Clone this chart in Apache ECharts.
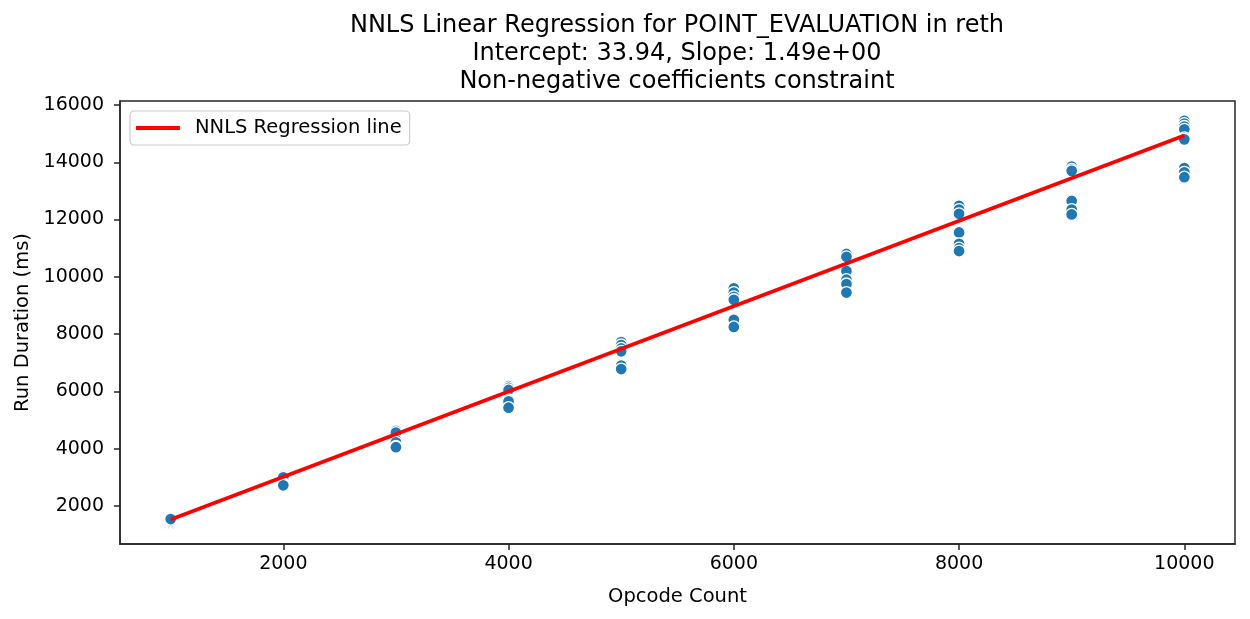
<!DOCTYPE html>
<html>
<head>
<meta charset="utf-8">
<script src="https://cdn.jsdelivr.net/npm/echarts@6/dist/echarts.min.js"></script>
<style>html,body{margin:0;padding:0;background:#fff}#c{width:1250px;height:619px}</style>
</head>
<body>
<div id="c"></div>
<script>
const opcodeCounts = [1000, 2000, 3000, 4000, 5000, 6000, 7000, 8000, 9000, 10000];
const durations1000 = [1360, 1380, 1420, 1460, 1500, 1540];
const durations2000 = [3080, 3040, 3000, 2780, 2740, 2720];
const durations3000 = [4620, 4560, 4300, 4220, 4080, 4050];
const durations4000 = [6180, 6120, 6050, 5700, 5650, 5430];
const durations5000 = [7720, 7620, 7500, 7400, 6900, 6780];
const durations6000 = [9600, 9450, 9300, 9200, 8500, 8250];
const durations7000 = [10800, 10700, 10200, 9900, 9750, 9450];
const durations8000 = [12480, 12350, 12200, 11550, 11150, 11000, 10900];
const durations9000 = [13850, 13750, 13700, 12650, 12350, 12180];
const durations10000 = [15450, 15350, 15250, 15150, 14850, 14800, 13800, 13650, 13480];
const lineX = [1000, 10000];
const lineY = [1524, 14934];
const xTicks = [2000, 4000, 6000, 8000, 10000];
const yTicks = [2000, 4000, 6000, 8000, 10000, 12000, 14000, 16000];

const groups = [durations1000, durations2000, durations3000, durations4000, durations5000,
  durations6000, durations7000, durations8000, durations9000, durations10000];
const scatterData = [];
groups.forEach((g, i) => g.forEach(v => scatterData.push([opcodeCounts[i], v])));
const lineData = lineX.map((x, i) => [x, lineY[i]]);

const font = 'DejaVu Sans';
const ink = '#262626';
const chart = echarts.init(document.getElementById('c'), null, {renderer: 'canvas'});
chart.setOption({
  animation: false,
  backgroundColor: '#fff',
  textStyle: {fontFamily: font},
  title: {
    text: 'NNLS Linear Regression for POINT_EVALUATION in reth\nIntercept: 33.94, Slope: 1.49e+00\nNon-negative coefficients constraint',
    left: 677, top: 12, textAlign: 'center', padding: 0,
    textStyle: {fontFamily: font, fontSize: 24, fontWeight: 'normal', color: '#000', lineHeight: 28}
  },
  legend: {
    left: 130, top: 111,
    padding: [7, 8, 7, 6],
    backgroundColor: '#fff',
    borderColor: '#cccccc', borderWidth: 1.2, borderRadius: 4,
    itemWidth: 44, itemHeight: 4, itemGap: 10,
    textStyle: {fontFamily: font, fontSize: 19.5, color: '#000', padding: [0, 0, 0, 10]},
    data: [{name: 'NNLS Regression line', icon: 'rect', itemStyle: {color: '#ff0000'}}]
  },
  grid: {
    left: 120, right: 15, top: 101, bottom: 75,
    show: true, borderColor: ink, borderWidth: 1.5, backgroundColor: 'transparent'
  },
  xAxis: {
    type: 'value', min: 550, max: 10450,
    name: 'Opcode Count', nameLocation: 'middle', nameGap: 43,
    nameTextStyle: {fontFamily: font, fontSize: 19.5, color: '#000'},
    axisLine: {show: true, lineStyle: {color: ink, width: 1.5}},
    axisTick: {show: true, length: 6, customValues: xTicks, lineStyle: {color: ink, width: 1.5}},
    axisLabel: {customValues: xTicks, fontFamily: font, fontSize: 19, color: '#000', margin: 11, formatter: v => String(v)},
    splitLine: {show: false}
  },
  yAxis: {
    type: 'value', min: 670, max: 16140,
    name: 'Run Duration (ms)', nameLocation: 'middle', nameGap: 86, nameRotate: 90,
    nameTextStyle: {fontFamily: font, fontSize: 19.5, color: '#000'},
    axisLine: {show: true, lineStyle: {color: ink, width: 1.5}},
    axisTick: {show: true, length: 6, customValues: yTicks, lineStyle: {color: ink, width: 1.5}},
    axisLabel: {customValues: yTicks, fontFamily: font, fontSize: 19, color: '#000', margin: 16, formatter: v => String(v)},
    splitLine: {show: false}
  },
  series: [
    {
      type: 'scatter', name: 'points', data: scatterData,
      symbolSize: 12,
      itemStyle: {color: '#1f77b4', borderColor: '#ffffff', borderWidth: 1.3, opacity: 1},
      z: 2
    },
    {
      type: 'line', name: 'NNLS Regression line', data: lineData,
      showSymbol: false, symbol: 'none',
      lineStyle: {color: '#ff0000', width: 3.6},
      itemStyle: {color: '#ff0000'},
      z: 3
    }
  ]
});
</script>
</body>
</html>
